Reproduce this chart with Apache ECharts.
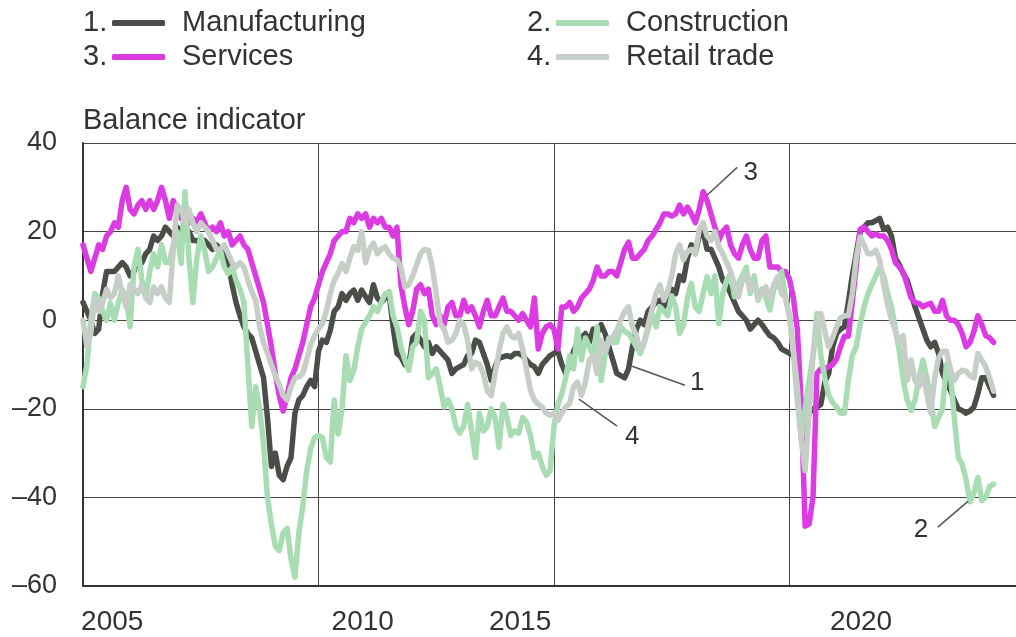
<!DOCTYPE html>
<html>
<head>
<meta charset="utf-8">
<script src="https://cdn.jsdelivr.net/npm/echarts@6/dist/echarts.min.js"></script>
<style>
html, body { margin: 0; padding: 0; background: #fff; }
#chart { width: 1016px; height: 637px; }
</style>
</head>
<body>
<div id="chart"></div>
<script>
// monthly balance indicators, first value = January 2005
var startYear = 2005;

var manufacturing = [
    4, 2, 0, -3, -2, 6, 11, 11, 11, 12, 13, 12,
    10, 11, 14, 13, 15, 16, 19, 18, 19, 21, 20, 19,
    21, 20, 19, 20, 18, 18, 17, 18, 17, 16, 17, 16,
    16, 13, 8, 4, 1, -1.5, -3, -4, -7, -10, -13, -22,
    -33, -30, -35, -36, -33, -31, -21, -18, -17, -15, -13.6, -15,
    -7, -4.5, -5, -2.3, 2, 3, 6, 4.5, 6, 6.8, 4.5, 6.8,
    5.3, 4, 8, 5, 4, 5, 6, -1.5, -7.5, -8.3, -10, -10.5,
    -4, -3, -4.5, -6, -5, -7.5, -6, -7, -8, -9, -12, -11,
    -10.5, -10, -8, -7.5, -4.5, -5, -7.5, -10, -13.6, -10.5, -8.5, -8.3,
    -8, -8.3, -7.5, -7.5, -8, -9, -10, -10.5, -12, -10, -9, -8,
    -7.5, -7, -10, -12, -10, -7, -5, -4, -3, -5, -2, -3,
    -1, -3, -6, -9, -12, -12.5, -13, -11, -6, -2, 0, -1,
    2, 3, 4, 4.5, 3, 5, 7, 6, 10, 9, 14, 17,
    15, 19, 20, 16, 16, 14, 12, 9, 8, 6, 4, 2,
    1, 0, -2, -1, 0, -1, -2.3, -3.5, -4, -5, -6.5, -7,
    -7.5, -8, -11, -22, -27, -21, -20, -19.6, -19, -14, -12, -6,
    -3, -2, -1.5, 4, 10, 15, 20, 21, 22, 22, 22.5, 23,
    20.5, 21, 19, 14, 12.5, 10.5, 9, 6, 3, 0.5, -2, -4.5,
    -6, -5, -7.5, -12, -14, -15.8, -18, -20, -20.4, -21, -20.5, -19.6,
    -16.6, -13, -13, -15, -17
];

var construction = [
    -15, -10, 0, 6, 5, 2, 0, 3.8, 0, 4, 6.8, 5,
    -1.5, 12, 16, 9, 5.3, 11, 15, 12, 17, 13, 13, 17,
    20, 12.8, 29, 14, 4, 14, 19, 15.8, 11, 12, 14, 15.8,
    12, 10.5, 12, 9, 7, 4, -10, -24, -15, -20, -28, -40,
    -46, -51, -52, -48, -47, -54, -58, -48, -42, -34, -29, -26.5,
    -26, -26.5, -31, -32, -18, -25.7, -20, -8, -13.6, -11.3, -6, -2,
    -0.5, 1, 3, 2, 4, 6, 6.5, 1, -1.5, -6, -9, -11.3,
    -6, -5, 2, 0, -13, -12, -11, -15, -19.6, -18, -20, -24,
    -25.5, -24, -19, -25, -31, -21, -25, -24, -20, -22, -28.7, -19,
    -21.9, -26, -25, -25.5, -22, -23, -26, -31, -30, -33, -35, -34,
    -24, -19, -16.6, -13, -8, -11, -2, -9, -4, -6, -8, -1.5,
    -13.6, -8, -4, -5, -5, -1.5, -2.5, -3, -4.5, -6, -7.5, -5,
    -2, 1.5, -1.5, 3, 2, 1, 5.5, 3, -3, -1, 5, 8.3,
    3, 2, 6, 9.8, 6, 10, -0.8, 6, 9, 10.5, 5.3, 8.3,
    10, 12, 6, 10, 4.5, 7, 5, 2.3, 7, 8, 11, 5,
    1, -7, -18, -27, -20, -13.6, -8, 1.5, -8, -13, -17, -18.5,
    -19.6, -21, -21, -13.6, -8, -6, -1, 3, 6, 8, 10, 12,
    10, 6, 3, -2, -7, -13.6, -18, -20.4, -18, -13, -9, -13,
    -18, -24, -22, -20, -10, -12, -22, -31, -32.5, -36, -41, -39,
    -35.5, -40.7, -40, -37.5, -37
];

var services = [
    17, 14, 11, 14, 17, 16, 19, 20, 22, 21, 27, 30,
    25, 24, 26, 27, 25, 27, 25, 27, 30, 27, 23, 27,
    25, 23, 24, 22, 23, 22, 24, 22, 20, 21, 20, 22,
    19, 20, 17, 18, 19, 17, 16, 13, 10, 7, 4, -1,
    -6, -12, -17, -20.5, -17, -13, -11, -8, -5, -1, 3, 5,
    8, 11, 13, 15, 18, 19, 20, 20, 23, 22, 24, 23,
    24, 21, 23, 22, 23, 21, 21, 19, 21, 8, 3, -1,
    2, 7, 8, 6, 7, 1, -1, 1, -1, 3, 4, 1,
    1, 4.5, 2, 3, 1, -1.5, 2, 4.5, 1, 1, 3, 5,
    2, 2, 1, 0, 1.5, 0, -1.5, 5, -6.5, -3, -1.5, -1,
    -2, -6.5, 3, 3, 4, 2, 3, 5, 6, 7, 9, 12,
    10, 10, 11, 11, 10, 13, 16, 17.6, 14, 14, 15, 16,
    18, 19, 20.5, 22, 24, 24, 23.5, 24, 26, 24, 25.5, 24,
    22, 25, 29, 27, 24, 21, 18, 20, 21, 17, 15, 14,
    17, 19, 16, 14, 14, 18, 19, 12, 12, 12, 11, 11,
    9.3, 5, -2, -19, -46.5, -46, -40, -12, -11, -11, -10.5, -10,
    -8.8, -6, -3.6, -3.6, 4, 12, 20.5, 21, 20, 19, 19.5, 19,
    19, 18, 16, 13, 12, 10.8, 8, 5, 4, 3.8, 3, 3.5,
    3.8, 2, 2, 4.5, 1, 0, 0, -1, -3, -6, -5, -2.5,
    1, -1, -3.5, -4, -5
];

var retail = [
    0, -6, -3, 5, 2, 4, 7, 5, 6, 10, 6, 3,
    8, 7, 6, 8, 5, 4, 7.5, 6, 7.5, 5, 4, 16,
    26, 25, 22, 25, 22, 20, 22, 21, 20, 18, 16, 16,
    17, 15, 13, 12, 13, 12, 9, 6.5, 4.5, -1.5, -5, -7.5,
    -10, -12.5, -14.5, -17, -18, -15, -13, -12.8, -12, -9, -5.5, -3.5,
    -2, -0.8, 2, 6, 9, 10.5, 12.8, 11, 14, 16.6, 15.8, 20,
    13, 16, 17.4, 15, 16, 16.6, 15, 14, 13.6, 12, 7.5, 8,
    10, 12.5, 15, 16, 15.8, 12, 6, -0.8, -2, -5, -4.5, -3,
    0, -1, -4.5, -11, -9.5, -10, -12, -16, -17, -12, -7, -3,
    -1.5, -3.5, -4, -3, -6.5, -11, -15.8, -18, -19, -19.6, -21, -21.5,
    -21, -22.6, -21, -19.5, -18.8, -15, -14, -17, -14, -9, -8, -12,
    -4.5, -7, -5, -3.8, -2.3, 0, 2, 3, -1.5, -3.5, -6.5, -5,
    -1, 2.5, 6, 8, 4.5, 6.5, 10, 15, 17, 13.6, 15.5, 16,
    15, 20.4, 22, 19, 18, 20, 16.6, 15, 13, 11, 8, 5.3,
    9, 10, 7, 8.3, 5, 6, 7.5, 5, 8, 9.8, 6, 5,
    1, -7, -15, -27, -34, -21, -8, -1, 1.5, -2.5, -6, -4,
    -1.5, 0.5, 1, 1, 6, 14, 18.8, 17, 15, 15, 15.8, 13.6,
    8, 3.5, 0, -2.5, -5, -3.5, -13.6, -9, -13.6, -15, -12, -16.6,
    -21, -13, -8.5, -7, -7, -11, -13.6, -12, -11.3, -11.5, -12.5, -13,
    -7.5, -9, -10.5, -13, -16
];

var seriesNames = ['Manufacturing', 'Construction', 'Services', 'Retail trade'];
var seriesNumbers = ['1.', '2.', '3.', '4.'];
var xTickLabels = ['2005', '2010', '2015', '2020'];

var font = 'Liberation Sans, Arial, sans-serif';
var ink = '#333';
var colors = {
    'Manufacturing': '#4a4d48',
    'Construction': '#a8dcb3',
    'Services': '#dc3ae3',
    'Retail trade': '#c6cec7'
};

function toPairs(arr) {
    return arr.map(function (v, i) {
        return [startYear + i / 12, v];
    });
}

function lineSeries(name, arr) {
    return {
        name: name,
        type: 'line',
        data: toPairs(arr),
        showSymbol: false,
        symbol: 'none',
        color: colors[name],
        lineStyle: { width: 5.5, color: colors[name], cap: 'round', join: 'round' },
        z: 2
    };
}

function legendItem(name, left, top) {
    return {
        data: [name],
        left: left,
        top: top,
        padding: 0,
        icon: 'roundRect',
        itemWidth: 53,
        itemHeight: 6,
        selectedMode: false,
        textStyle: { fontFamily: font, fontSize: 29, color: ink, padding: [0, 0, 0, 12], lineHeight: 34 }
    };
}

var myChart = echarts.init(document.getElementById('chart'));
var option = {
    animation: false,
    backgroundColor: '#fff',
    legend: [
        legendItem('Manufacturing', 112, 6),
        legendItem('Construction', 556, 6),
        legendItem('Services', 112, 40),
        legendItem('Retail trade', 556, 40)
    ],
    grid: { left: 83, right: 0, top: 143, bottom: 51 },
    xAxis: {
        type: 'value',
        min: 2005,
        max: 2024.81,
        interval: 5,
        axisLine: { show: true, onZero: false, lineStyle: { color: ink, width: 2 } },
        axisTick: { show: false },
        axisLabel: { show: false },
        splitLine: { show: true, showMinLine: false, showMaxLine: false, lineStyle: { color: '#444', width: 1 } }
    },
    yAxis: {
        type: 'value',
        min: -60,
        max: 40,
        interval: 20,
        name: 'Balance indicator',
        nameLocation: 'end',
        nameGap: 22,
        nameTextStyle: { fontFamily: font, fontSize: 29, color: ink, align: 'left', verticalAlign: 'middle' },
        axisLine: { show: true, lineStyle: { color: ink, width: 2 } },
        axisTick: { show: false },
        axisLabel: {
            fontFamily: font, fontSize: 27, color: ink, margin: 26,
            formatter: function (v) { return v < 0 ? '\u2013' + Math.abs(v) : String(v); }
        },
        splitLine: { show: true, showMinLine: false, lineStyle: { color: '#444', width: 1 } }
    },
    series: [
        lineSeries('Manufacturing', manufacturing),
        lineSeries('Services', services),
        lineSeries('Construction', construction),
        lineSeries('Retail trade', retail)
    ]
};
myChart.setOption(option);

// x labels sit off the gridlines in the original, so place them by hand (axis units)
var xLabelAt = [2005.62, 2010.94, 2014.28, 2021.52];
// series callouts: number text and leader line, in axis units
var callouts = [
    { text: '3', at: [2019.18, 33.2], from: [2018.25, 28.2], to: [2018.89, 34.5] },
    { text: '1', at: [2018.04, -14.2], from: [2016.66, -10.4], to: [2017.78, -14.7] },
    { text: '4', at: [2016.66, -26.4], from: [2015.53, -17.8], to: [2016.34, -23.9] },
    { text: '2', at: [2022.79, -47.4], from: [2023.79, -40.9], to: [2023.15, -46.7] }
];

var graphics = [];
var bottomY = myChart.convertToPixel({ gridIndex: 0 }, [2005, -60])[1];
xTickLabels.forEach(function (t, i) {
    var x = myChart.convertToPixel({ gridIndex: 0 }, [xLabelAt[i], -60])[0];
    graphics.push({
        type: 'text', x: x, y: bottomY + 36,
        style: { text: t, fontFamily: font, fontSize: 28, fill: ink, textAlign: 'center', textVerticalAlign: 'middle' }
    });
});
callouts.forEach(function (c) {
    var p = myChart.convertToPixel({ gridIndex: 0 }, c.at);
    var a = myChart.convertToPixel({ gridIndex: 0 }, c.from);
    var b = myChart.convertToPixel({ gridIndex: 0 }, c.to);
    graphics.push({
        type: 'line', shape: { x1: a[0], y1: a[1], x2: b[0], y2: b[1] },
        style: { stroke: '#555', lineWidth: 1.5 }, z: 10
    });
    graphics.push({
        type: 'text', x: p[0], y: p[1], z: 10,
        style: { text: c.text, fontFamily: font, fontSize: 26, fill: ink, textAlign: 'center', textVerticalAlign: 'middle' }
    });
});
var numberPos = [[83, 23], [527, 23], [83, 57], [527, 57]];
seriesNumbers.forEach(function (n, i) {
    graphics.push({
        type: 'text', x: numberPos[i][0], y: numberPos[i][1],
        style: { text: n, fontFamily: font, fontSize: 29, fill: ink, textAlign: 'left', textVerticalAlign: 'middle' }
    });
});
myChart.setOption({ graphic: graphics });
</script>
</body>
</html>
